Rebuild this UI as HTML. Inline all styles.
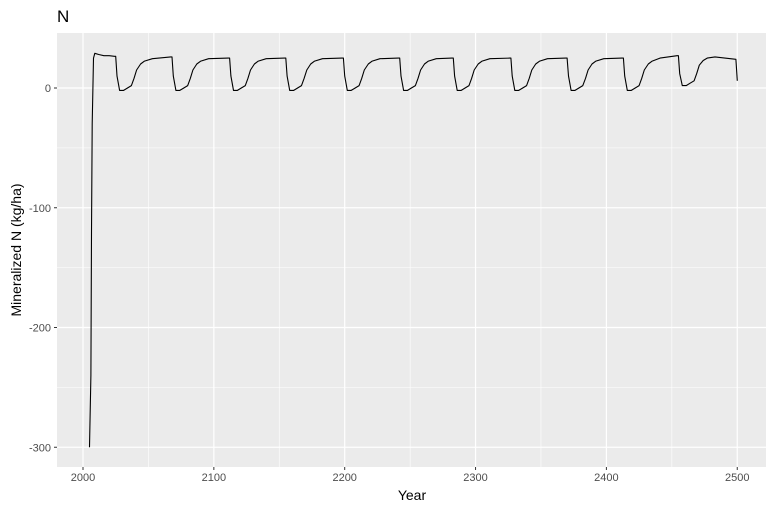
<!DOCTYPE html>
<html><head><meta charset="utf-8"><style>
body{margin:0;background:#fff;font-family:"Liberation Sans",Arial,sans-serif}
</style></head><body>
<svg id="chart" width="776" height="511" xmlns="http://www.w3.org/2000/svg">
<text x="57" y="22" font-size="17" fill="#000">N</text>
<rect x="57" y="33" width="709" height="434" fill="#ebebeb"/>
<g id="grid"></g>
<g id="axes"></g>
<text x="412" y="500" font-size="14" text-anchor="middle" fill="#000">Year</text>
<text transform="translate(21,250) rotate(-90)" font-size="14" text-anchor="middle" fill="#000">Mineralized N (kg/ha)</text>
<path id="line" fill="none" stroke="#000" stroke-width="1.1" stroke-linejoin="round"/>
</svg>
<script>
const xTicks=[2000,2100,2200,2300,2400,2500];
const xMinor=[2050,2150,2250,2350,2450];
const yTicks=[0,-100,-200,-300];
const yMinor=[50,-50,-150,-250];
const years=[2005,2006,2006.5,2007,2008,2009,2012,2016,2020,2024,
2025,2026,2028,2031,2034,2037,2039,2041,2044,2047,2053,2067,
2068,2069,2071,2074,2077,2080,2082,2084,2087,2090,2096,2111,
2112,2113,2115,2118,2121,2124,2126,2128,2131,2134,2140,2154,
2155,2156,2158,2161,2164,2167,2169,2171,2174,2177,2183,2198,
2199,2200,2202,2205,2208,2211,2213,2215,2218,2221,2227,2241,
2242,2243,2245,2248,2251,2254,2256,2258,2261,2264,2270,2282,
2283,2284,2286,2289,2292,2295,2297,2299,2302,2305,2311,2326,
2327,2328,2330,2333,2336,2339,2341,2343,2346,2349,2355,2369,
2370,2371,2373,2376,2379,2382,2384,2386,2389,2392,2398,2412,
2413,2414,2416,2419,2422,2425,2427,2429,2432,2435,2441,2454,
2455,2456,2458,2461,2464,2467,2469,2471,2474,2477,2483,2499,2500];
const values=[-300,-240,-120,-30,25,29,28,27,27,26.5,
26.5,10,-2,-2,0,2,8,15,20,22.5,24.5,26,
26,10,-2,-2,0,2,8,15,20,22.5,24.5,25,
25,10,-2,-2,0,2,8,15,20,22.5,24.5,25,
25,10,-2,-2,0,2,8,15,20,22.5,24.5,25,
25,10,-2,-2,0,2,8,15,20,22.5,24.5,25,
25,10,-2,-2,0,2,8,15,20,22.5,24.5,25,
25,10,-2,-2,0,2,8,15,20,22.5,24.5,25,
25,10,-2,-2,0,2,8,15,20,22.5,24.5,25,
25,10,-2,-2,0,2,8,15,20,22.5,24.5,25,
25,10,-2,-2,0,2,8,15,20,22.5,25,27,
27,12,2,2,4,6,12,19,23,25,26,24,6];
const X=v=>83+(v-2000)*1.3085, Y=v=>88-v*1.1975;
const ns="http://www.w3.org/2000/svg";
const grid=document.getElementById('grid'), axes=document.getElementById('axes');
function ln(p,x1,y1,x2,y2,c,w){const l=document.createElementNS(ns,'line');
l.setAttribute('x1',x1);l.setAttribute('y1',y1);l.setAttribute('x2',x2);l.setAttribute('y2',y2);
l.setAttribute('stroke',c);l.setAttribute('stroke-width',w);p.appendChild(l);return l;}
function tx(s,x,y,a){const t=document.createElementNS(ns,'text');t.textContent=s;
t.setAttribute('x',x);t.setAttribute('y',y);t.setAttribute('text-anchor',a);t.setAttribute('font-size','11');t.setAttribute('fill','#4d4d4d');axes.appendChild(t);return t;}
xMinor.forEach(v=>{const l=ln(grid,X(v),33,X(v),467,'#fff',0.6);

});
yMinor.forEach(v=>{const l=ln(grid,57,Y(v),766,Y(v),'#fff',0.6);

});
xTicks.forEach(v=>{const l=ln(grid,X(v),33,X(v),467,'#fff',1.2);


const k=ln(axes,X(v),467,X(v),470,'#333',1);


const t=tx(v,X(v),481,'middle');

});
yTicks.forEach(v=>{const l=ln(grid,57,Y(v),766,Y(v),'#fff',1.2);


const k=ln(axes,54,Y(v),57,Y(v),'#333',1);


const t=tx(v,51,Y(v)+4,'end');

});
document.getElementById('line').setAttribute('d',years.map((y,i)=>(i?'L':'M')+X(y).toFixed(1)+','+Y(values[i]).toFixed(1)).join(''));
</script>
</body></html>
